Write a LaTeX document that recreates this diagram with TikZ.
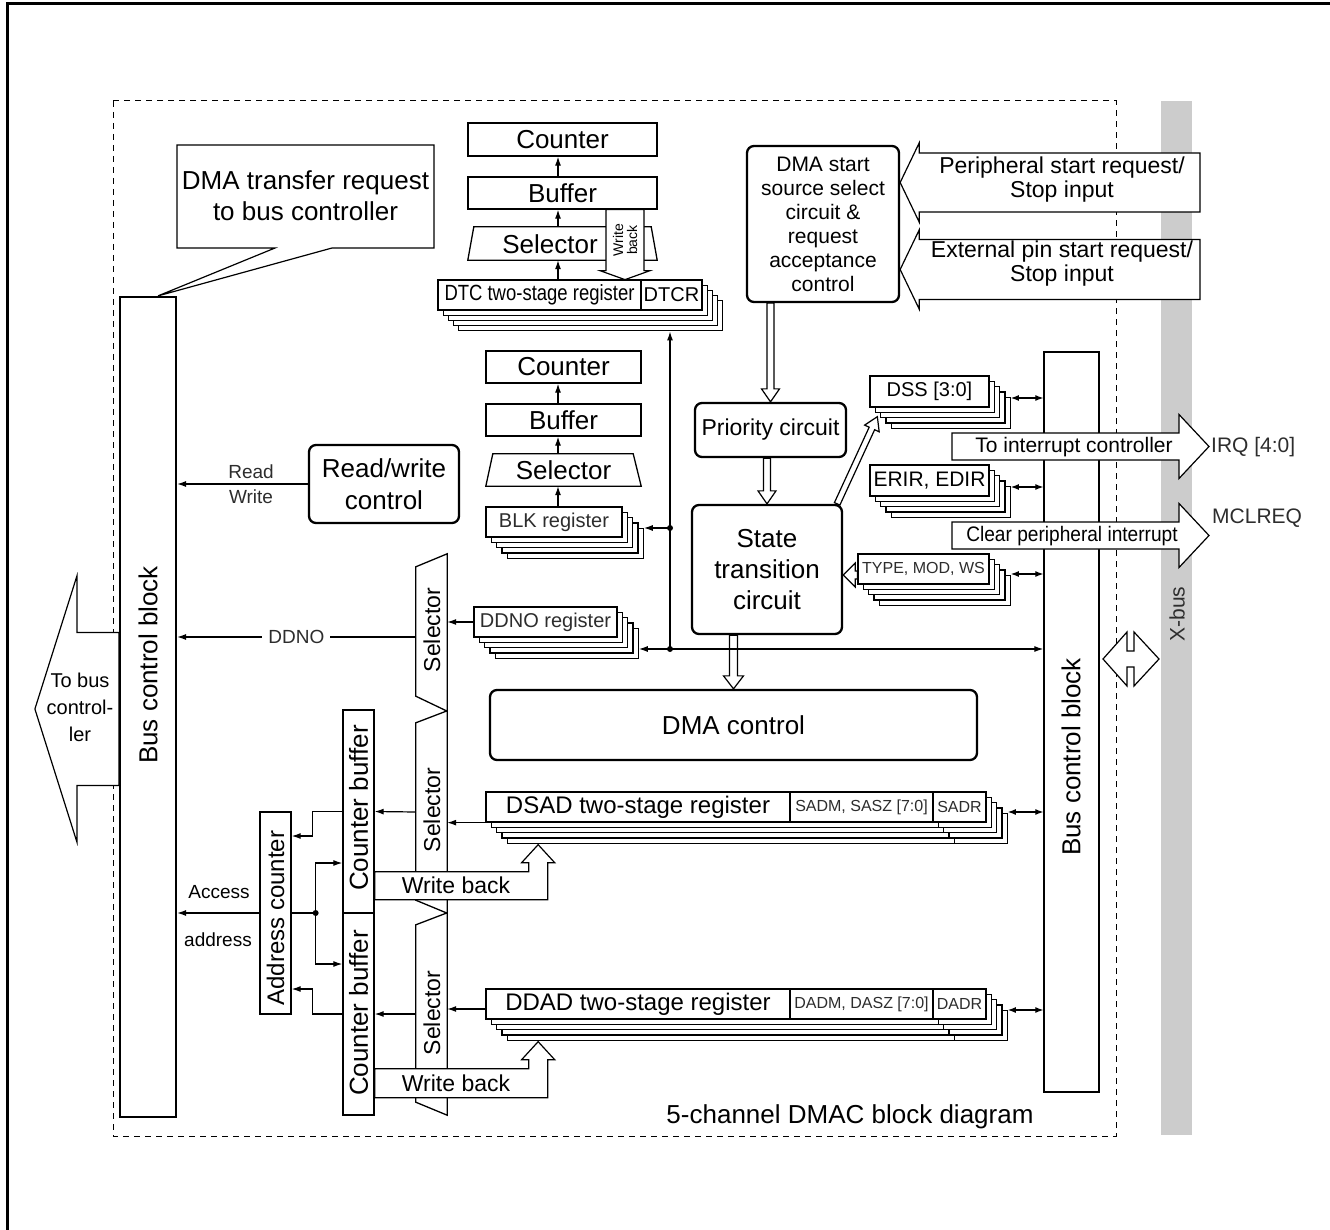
\documentclass[tikz,border=0pt]{standalone}
\usepackage{fontspec}
\setmainfont{Liberation Sans}
\newfontfamily\narrowA[FakeStretch=0.84]{Liberation Sans}
\newfontfamily\narrowB[FakeStretch=0.91]{Liberation Sans}
\usetikzlibrary{arrows.meta,calc}
\pgfdeclarelayer{back}
\pgfdeclarelayer{mid}
\pgfsetlayers{back,mid,main}
\definecolor{busgrey}{RGB}{204,204,204}
\definecolor{txtgrey}{RGB}{45,45,45}
\newcommand\fsz[2]{\fontsize{#1}{#2}\selectfont}
\newcommand\boxnode[6]{\node[#1, minimum width={#5-#3}, minimum height={#6-#4}] (#2) at ({(#3+#5)/2},{(#4+#6)/2})}
\newcommand\reglayers[6]{%
  \foreach \kk in {4,3,2,1}{%
    \draw[fill=white, line width=1.2pt] ({#1+#6*\kk},{#2+#6*\kk}) rectangle ++(#3,#4);
    \foreach \dv in {#5}{\draw[line width=1.2pt] ({#1+#6*\kk+\dv},{#2+#6*\kk}) -- ++(0,#4);}%
  }}
\newcommand\hollowarr[5]{%
  \coordinate (hA) at #1; \coordinate (hB) at #2;
  \coordinate (hC) at ($(hB)!#5!(hA)$);
  \draw[hollow] ($(hA)!#3!90:(hB)$) -- ($(hC)!#3!90:(hB)$) -- ($(hC)!#4!90:(hB)$) -- (hB)
     -- ($(hC)!#4!-90:(hB)$) -- ($(hC)!#3!-90:(hB)$) -- ($(hA)!#3!-90:(hB)$) -- cycle;}
\begin{document}
\begin{tikzpicture}[x=1pt,y=-1pt,
  hollow/.style={draw, fill=white, line width=1.2pt, line join=miter},
  box/.style={draw, fill=white, line width=1.3pt, inner sep=0pt, align=center},
  rbox/.style={box, rounded corners=7pt, line width=2.3pt},
  selshape/.style={draw, fill=white, line width=1.3pt},
  arr/.style={-{Latex[length=9pt,width=6pt]}, line width=1.2pt},
  darr/.style={{Latex[length=8pt,width=6pt]}-{Latex[length=8pt,width=6pt]}, line width=1.2pt},
  lbl/.style={inner sep=0pt, align=center}]
\useasboundingbox (0,0) rectangle (1330,1230);

\begin{pgfonlayer}{back}
  \draw[line width=3pt] (7,1240) -- (7,4) -- (1340,4);
  \boxnode{fill=busgrey, inner sep=0pt}{xbus}{1161}{101}{1192}{1135} {};
  \draw[line width=1pt, dash pattern=on 6pt off 5pt] (113,101) rectangle (1116,1136);
\end{pgfonlayer}
\node[lbl, rotate=90, text=txtgrey, font=\fsz{21}{24}] (xbustxt) at (1177,614) {X-bus};
\node[lbl, font=\fsz{26}{30}] (title) at (850,1117) {5-channel DMAC block diagram};

% ---------- left bus control block ----------
\boxnode{box, line width=2.2pt}{lbus}{120}{297}{176}{1117} {};
\node[lbl, rotate=90, font=\fsz{26}{30}] (lbustxt) at (148,665) {Bus control block};
\begin{pgfonlayer}{mid}
  \hollowarr{($(lbus.west)+(0,2)$)}{($(lbus.west)+(-84,2)$)}{76.5pt}{133pt}{42pt}
\end{pgfonlayer}
\node[lbl, font=\fsz{20}{27}] (tobus) at (80,707) {To bus\\control-\\ler};

% callout
\draw[hollow] (177,145) -- (434,145) -- (434,248) -- (332,248) -- ($(lbus.north)+(10,0)$) -- (275,248) -- (177,248) -- cycle;
\node[lbl, font=\fsz{26}{31}] (callout) at (305.5,196) {DMA transfer request\\to bus controller};

% read/write control
\boxnode{rbox, font=\fsz{26}{32}}{rw}{309}{445}{459}{523} {Read/write\\control};
\draw[arr] (rw.west) -- (rw.west -| lbus.east);
\node[lbl, text=txtgrey, font=\fsz{19}{22}] (rdl) at (251,472) {Read};
\node[lbl, text=txtgrey, font=\fsz{19}{22}] (wrl) at (251,497) {Write};

% ---------- DTC column ----------
\boxnode{box, font=\fsz{26}{30}}{cnt1}{468}{123}{657}{156} {Counter};
\boxnode{box, font=\fsz{26}{30}}{buf1}{468}{177}{657}{209} {Buffer};
\boxnode{inner sep=0pt}{sel1}{468}{227}{657}{260} {};
\draw[selshape] ($(sel1.north west)+(6,0)$) -- ($(sel1.north east)+(-6,0)$) -- (sel1.south east) -- (sel1.south west) -- cycle;
\begin{scope}[shift={(buf1.south)}]
  \draw[hollow] (43.5,0) -- (43.5,61) -- (37.5,61) -- (62.5,70) -- (87.5,61) -- (81.5,61) -- (81.5,0) -- cycle;
\end{scope}
\node[lbl, rotate=90, font=\fsz{14}{14}] (wb0) at (625,240) {Write\\back};
\node[lbl, font=\fsz{26}{30}] (sel1t) at (550,244) {Selector};
\reglayers{438}{280}{264}{30}{0}{5.2}
\boxnode{box, font=\narrowA\fsz{22}{26}}{dtc}{438}{280}{641}{310} {DTC two-stage register};
\boxnode{box, font=\fsz{20}{24}}{dtcr}{641}{280}{702}{310} {DTCR};
\draw[arr] ([xshift=-4.5pt]buf1.north) -- ([xshift=-4.5pt]cnt1.south);
\draw[arr] ([xshift=-4.5pt]sel1.north) -- ([xshift=-4.5pt]buf1.south);
\draw[arr] ([xshift=-4.5pt]sel1.south |- dtc.north) -- ([xshift=-4.5pt]sel1.south);

% ---------- BLK column ----------
\boxnode{box, font=\fsz{26}{30}}{cnt2}{486}{351}{641}{383} {Counter};
\boxnode{box, font=\fsz{26}{30}}{buf2}{486}{404}{641}{436} {Buffer};
\boxnode{inner sep=0pt}{sel2}{486}{454}{641}{486} {};
\draw[selshape] ($(sel2.north west)+(7,0)$) -- ($(sel2.north east)+(-8,0)$) -- (sel2.south east) -- (sel2.south west) -- cycle;
\node[lbl, font=\fsz{26}{30}] (sel2t) at (sel2) {Selector};
\reglayers{486}{507}{136}{30}{0}{5.3}
\boxnode{box, text=txtgrey, font=\fsz{20}{24}}{blk}{486}{507}{622}{537} {BLK register};
\draw[arr] ([xshift=-5.5pt]buf2.north) -- ([xshift=-5.5pt]cnt2.south);
\draw[arr] ([xshift=-5.5pt]sel2.north) -- ([xshift=-5.5pt]buf2.south);
\draw[arr] ([xshift=-5.5pt]sel2.south |- blk.north) -- ([xshift=-5.5pt]sel2.south);

% DDNO register
\reglayers{474}{607}{143}{30}{0}{5.3}
\boxnode{box, text=txtgrey, font=\fsz{20}{24}}{ddno}{474}{607}{617}{637} {DDNO register};

% ---------- right bus control block ----------
\boxnode{box}{rbus}{1044}{352}{1099}{1092} {};
\node[lbl, rotate=90, font=\fsz{26}{30}] (rbustxt) at (1071,757) {Bus control block};

% junction lines
\coordinate (jtop) at (670,528);
\coordinate (jbot) at (670,649);
\coordinate (blkR) at ($(blk.east)+(21.2,0)$);
\coordinate (ddnoR) at ($(ddno.east)+(21.2,0)$);
\coordinate (dtcB) at ($(dtc.south)+(0,20.8)$);
\draw[arr] (jbot) -- (jbot |- dtcB);
\draw[arr] (jtop) -- (jtop -| blkR);
\draw[arr] (jbot) -- (jbot -| ddnoR);
\draw[arr] (jbot) -- (jbot -| rbus.west);
\fill (jtop) circle (3pt);
\fill (jbot) circle (3pt);

% ---------- control boxes ----------
\boxnode{rbox, font=\fsz{21}{24}}{dmastart}{747}{146}{899}{302} {DMA start\\source select\\circuit \&\\request\\acceptance\\control};
\boxnode{rbox, font=\fsz{23}{26}}{prio}{695}{403}{846}{457} {Priority circuit};
\boxnode{rbox, font=\fsz{26}{31}}{state}{692}{505}{842}{634} {State\\transition\\circuit};
\boxnode{rbox, font=\fsz{26}{30}}{dmactl}{490}{690}{977}{760} {DMA control};

% register stacks on the right
\reglayers{870}{376}{119}{31}{0}{5.3}
\boxnode{box, font=\fsz{20}{24}}{dss}{870}{376}{989}{407} {DSS [3:0]};
\reglayers{870}{465}{119}{31}{0}{5.3}
\boxnode{box, font=\fsz{21}{24}}{erir}{870}{465}{989}{496} {ERIR, EDIR};
\reglayers{858}{554}{131}{30}{0}{5.3}
\boxnode{box, text=txtgrey, font=\fsz{16}{20}}{type}{858}{554}{989}{584} {TYPE, MOD, WS};
\coordinate (dssR) at ($(dss.east)+(21.2,6.5)$);
\coordinate (erirR) at ($(erir.east)+(21.2,6.5)$);
\coordinate (typeR) at ($(type.east)+(21.2,5)$);
\draw[darr] (dssR) -- (dssR -| rbus.west);
\draw[darr] (erirR) -- (erirR -| rbus.west);
\draw[darr] (typeR) -- (typeR -| rbus.west);

\begin{pgfonlayer}{mid}
  \hollowarr{(1200,182.5)}{(dmastart.east |- hA)}{29.5pt}{39.5pt}{19pt}
  \hollowarr{(1200,269.5)}{(dmastart.east |- hA)}{30pt}{39.5pt}{19pt}
  \hollowarr{(prio.north |- dmastart.south)}{(prio.north)}{3.5pt}{9pt}{13pt}
  \hollowarr{(state.north |- prio.south)}{(state.north)}{3.5pt}{9pt}{13pt}
  \hollowarr{(dmactl.north |- state.south)}{(dmactl.north)}{4pt}{10pt}{13pt}
  \hollowarr{($(state.north east)+(-6,0)$)}{($(dss.south west)+(8,9)$)}{3pt}{8pt}{13pt}
  \hollowarr{($(type.west)+(0,6)$)}{(state.east |- hA)}{4pt}{12pt}{12pt}
\end{pgfonlayer}
\node[lbl, font=\fsz{23}{24}] (perl) at (1062,180) {Peripheral start request/\\Stop input};
\node[lbl, font=\fsz{23}{24}] (extl) at (1062,264) {External pin start request/\\Stop input};

% interrupt arrows
\hollowarr{(952,446.5)}{(1209,446.5)}{13.5pt}{32pt}{30pt}
\node[lbl, font=\fsz{21}{24}] (intl) at (1074,447) {To interrupt controller};
\node[lbl, text=txtgrey, font=\fsz{21}{24}, anchor=west] (irq) at (1211,447) {IRQ [4:0]};
\hollowarr{(952,535.5)}{(1209,535.5)}{13.5pt}{32pt}{30pt}
\node[lbl, font=\narrowB\fsz{21}{24}] (clrl) at (1072,536) {Clear peripheral interrupt};
\node[lbl, text=txtgrey, font=\fsz{21}{24}, anchor=west] (mcl) at (1212,518) {MCLREQ};

% X-bus double arrow
\draw[hollow] (1103,659) -- (1127,632) -- (1127,651) -- (1134,651) -- (1134,632) -- (1159,659)
  -- (1134,686) -- (1134,667) -- (1127,667) -- (1127,686) -- cycle;

% ---------- address path ----------
\boxnode{inner sep=0pt}{selA}{416}{554}{447}{711} {};
\boxnode{inner sep=0pt}{selB}{416}{711}{447}{913} {};
\boxnode{inner sep=0pt}{selC}{416}{913}{447}{1115} {};
\draw[selshape] ($(selA.north west)+(0,13)$) -- (selA.north east) -- (selA.south east) -- ($(selA.south west)+(0,-15)$) -- cycle;
\draw[selshape] ($(selB.north west)+(0,12)$) -- (selB.north east) -- (selB.south east) -- ($(selB.south west)+(0,-13)$) -- cycle;
\draw[selshape] ($(selC.north west)+(0,12)$) -- (selC.north east) -- (selC.south east) -- ($(selC.south west)+(0,-13)$) -- cycle;
\node[lbl, rotate=90, font=\fsz{23}{26}] (selAt) at (432,630) {Selector};
\node[lbl, rotate=90, font=\fsz{23}{26}] (selBt) at (432,810) {Selector};
\node[lbl, rotate=90, font=\fsz{23}{26}] (selCt) at (432,1013) {Selector};

\draw[arr] (ddno.west) -- (ddno.west -| selA.east);
\coordinate (ddL) at ($(selA.west)+(0,4.5)$);
\draw[arr] (ddL) -- node[lbl, fill=white, inner xsep=6pt, inner ysep=2pt, text=txtgrey, font=\fsz{19}{22}] (ddnolbl) {DDNO} (ddL -| lbus.east);

\boxnode{box}{cb1}{343}{710}{374}{913} {};
\boxnode{box}{cb2}{343}{913}{374}{1115} {};
\node[lbl, rotate=90, font=\fsz{26}{30}] (cb1t) at (358.5,808) {Counter buffer};
\node[lbl, rotate=90, font=\fsz{26}{30}] (cb2t) at (358.5,1013) {Counter buffer};
\boxnode{box}{addr}{260}{812}{291}{1014} {};
\node[lbl, rotate=90, font=\fsz{24}{28}] (addrt) at (275.5,918) {Address counter};

% DSAD / DDAD stacks
\reglayers{486}{792}{500}{30}{447}{5.3}
\boxnode{box, font=\fsz{24}{28}}{dsad}{486}{792}{790}{822} {DSAD two-stage register};
\boxnode{box, text=txtgrey, font=\fsz{16}{20}}{sadm}{790}{792}{933}{822} {SADM, SASZ [7:0]};
\boxnode{box, text=txtgrey, font=\fsz{16}{20}}{sadr}{933}{792}{986}{822} {SADR};
\reglayers{486}{989}{500}{30}{447}{5.3}
\boxnode{box, font=\fsz{24}{28}}{ddad}{486}{989}{790}{1019} {DDAD two-stage register};
\boxnode{box, text=txtgrey, font=\fsz{16}{20}}{dadm}{790}{989}{933}{1019} {DADM, DASZ [7:0]};
\boxnode{box, text=txtgrey, font=\fsz{16}{20}}{dadr}{933}{989}{986}{1019} {DADR};
\coordinate (dsadR) at ($(sadr.east)+(21.2,5)$);
\coordinate (ddadR) at ($(dadr.east)+(21.2,6)$);
\draw[darr] (dsadR) -- (dsadR -| rbus.west);
\draw[darr] (ddadR) -- (ddadR -| rbus.west);

% connectors in address path
\draw[arr] (dsad.south west) -- (dsad.south west -| selB.east);
\coordinate (ddadL) at ($(ddad.west)+(0,5)$);
\draw[arr] (ddadL) -- (ddadL -| selC.east);
\draw[arr] (selB.west) -- (cb1.east);
\draw[arr] (selC.west) -- (cb2.east);
\draw[arr] (cb1.west) -- ++(-30,0) |- ($(addr.east)+(0,-77)$);
\draw[arr] (cb2.west) -- ++(-30,0) |- ($(addr.east)+(0,76)$);
\coordinate (adot) at ($(addr.east)+(24,0)$);
\draw[line width=1.2pt] (addr.east) -- (adot);
\draw[arr] (adot) |- ($(cb1.west)+(0,51.5)$);
\draw[arr] (adot) |- ($(cb2.west)+(0,-50)$);
\fill (adot) circle (3pt);
\draw[arr] (addr.west) -- (addr.west -| lbus.east);
\node[lbl, font=\fsz{19}{22}] (accl) at (219,892) {Access};
\node[lbl, font=\fsz{19}{22}] (adrl) at (218,940) {address};

% write back arrows
\begin{scope}[shift={(cb1.south east)}]
  \draw[hollow] (0,-42) -- (154,-42) -- (154,-51) -- (147,-51) -- (163.5,-69) -- (180,-51) -- (173,-51) -- (173,-14) -- (0,-14) -- cycle;
\end{scope}
\begin{scope}[shift={(cb2.south east)}]
  \draw[hollow] (0,-47) -- (154,-47) -- (154,-56) -- (147,-56) -- (163.5,-74) -- (180,-56) -- (173,-56) -- (173,-18) -- (0,-18) -- cycle;
\end{scope}
\node[lbl, font=\fsz{23}{26}] (wb1) at (456,885) {Write back};
\node[lbl, font=\fsz{23}{26}] (wb2) at (456,1083) {Write back};
\end{tikzpicture}
\end{document}
